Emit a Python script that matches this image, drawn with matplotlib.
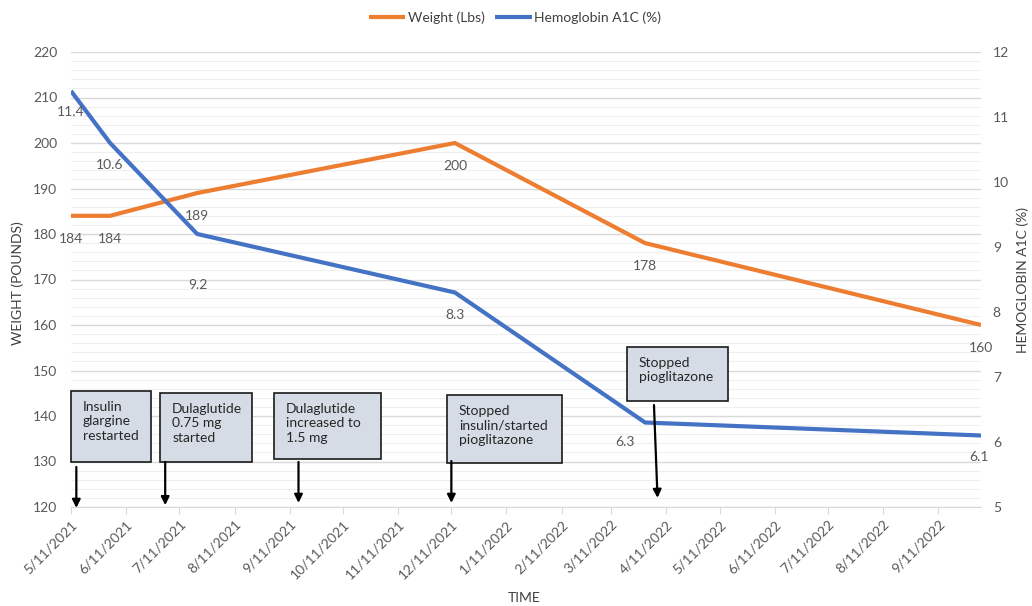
import datetime as dt
import matplotlib
matplotlib.use('Agg')
import matplotlib.pyplot as plt
from matplotlib.patches import Rectangle

plt.rcParams['font.family'] = ['Lato', 'DejaVu Sans']

# valeurs
dates = [dt.date(2021, 5, 11), dt.date(2021, 6, 2), dt.date(2021, 7, 21),
         dt.date(2021, 12, 13), dt.date(2022, 3, 30), dt.date(2022, 10, 5)]
weight = [184, 184, 189, 200, 178, 160]
a1c = [11.4, 10.6, 9.2, 8.3, 6.3, 6.1]

tick_labels = ['5/11/2021', '6/11/2021', '7/11/2021', '8/11/2021', '9/11/2021',
               '10/11/2021', '11/11/2021', '12/11/2021', '1/11/2022', '2/11/2022',
               '3/11/2022', '4/11/2022', '5/11/2022', '6/11/2022', '7/11/2022',
               '8/11/2022', '9/11/2022']
tick_dates = [dt.datetime.strptime(s, '%m/%d/%Y').date() for s in tick_labels]

events = ['Insulin\nglargine\nrestarted',
          'Dulaglutide\n0.75 mg\nstarted',
          'Dulaglutide\nincreased to\n1.5 mg',
          'Stopped\ninsulin/started\npioglitazone',
          'Stopped\npioglitazone']
event_dates = [dt.date(2021, 5, 14), dt.date(2021, 7, 3), dt.date(2021, 9, 16),
               dt.date(2021, 12, 11), dt.date(2022, 4, 6)]

ORANGE = '#ED7D31'
BLUE = '#4472C4'
GREY = '#595959'
PX = 0.72  # points par pixel a 100 dpi

fig = plt.figure(figsize=(10.32, 6.06), dpi=100)
ax = fig.add_axes([71 / 1032, 1 - 507 / 606, 910 / 1032, 455 / 606])
ax2 = ax.twinx()

l1, = ax.plot(dates, weight, color=ORANGE, lw=3, solid_capstyle='butt', label='Weight (Lbs)')
l2, = ax2.plot(dates, a1c, color=BLUE, lw=3, solid_capstyle='butt', label='Hemoglobin A1C (%)')

ax.set_xlim(dates[0], dates[-1])
ax.set_ylim(120, 220)
ax.set_yticks(range(120, 221, 10))
ax.set_yticks(range(120, 221, 2), minor=True)
ax.grid(which='major', axis='y', color='#D9D9D9', lw=1)
ax.grid(which='minor', axis='y', color='#EFEFEF', lw=0.8)
ax.tick_params(axis='y', which='both', length=0, pad=10, labelsize=10, labelcolor=GREY)

ax2.set_ylim(5, 12)
ax2.set_yticks(range(5, 13))
ax2.tick_params(axis='y', length=0, pad=8.5, labelsize=10, labelcolor=GREY)

ax.set_xticks(tick_dates)
ax.set_xticklabels(tick_labels, rotation=45, ha='right', rotation_mode='anchor')
ax.tick_params(axis='x', length=5, color='#D9D9D9', pad=3, labelsize=10, labelcolor=GREY)

for a in (ax, ax2):
    for s in ('top', 'left', 'right'):
        a.spines[s].set_visible(False)
    a.spines['bottom'].set_visible(False)
ax.spines['bottom'].set_visible(True)
ax.spines['bottom'].set_color('#D9D9D9')

# etiquettes des points
w_off = [(0, -23)] * 6
a_off = [(0, -21), (0, -22), (1, -51), (0, -23), (-20, -20), (-2, -22)]
for d, v, (dx, dy) in zip(dates, weight, w_off):
    ax.annotate(str(v), (d, v), xytext=(dx * PX, dy * PX), textcoords='offset points',
                ha='center', va='center', fontsize=10, color=GREY)
for d, v, (dx, dy) in zip(dates, a1c, a_off):
    ax2.annotate(str(v), (d, v), xytext=(dx * PX, dy * PX), textcoords='offset points',
                 ha='center', va='center', fontsize=10, color=GREY)

# encadres et fleches
boxes = [(0.0, 0.099, 0.088, 0.156),
         (0.098, 0.099, 0.101, 0.152),
         (0.223, 0.105, 0.118, 0.146),
         (0.413, 0.097, 0.127, 0.149),
         (0.611, 0.233, 0.111, 0.119)]
arrows = [(0.088, -0.002, 0), (0.099, 0.004, 0), (0.099, 0.009, 0),
          (0.101, 0.009, 0), (0.224, 0.020, -2)]
for txt, d, (x0, y0, w, h), (ya, yb, ddx) in zip(events, event_dates, boxes, arrows):
    ax2.add_patch(Rectangle((x0, y0), w, h, transform=ax2.transAxes, facecolor='#D6DCE5',
                            edgecolor='#1A1A1A', lw=1.2, clip_on=False, zorder=5))
    ax2.text(x0 + 12 / 910, y0 + h - 10 / 455, txt, transform=ax2.transAxes, ha='left', va='top',
             fontsize=10, color='#262626', linespacing=1.25, zorder=6)
    ax2.annotate('', xy=(d, yb), xytext=(d + dt.timedelta(days=ddx), ya),
                 xycoords=('data', 'axes fraction'), textcoords=('data', 'axes fraction'),
                 arrowprops=dict(arrowstyle='-|>', color='black', lw=1.6, mutation_scale=12,
                                 shrinkA=0, shrinkB=0),
                 annotation_clip=False, zorder=6)

fig.text(18 / 1032, 1 - 283 / 606, 'WEIGHT (POUNDS)', rotation=90, ha='center', va='center',
         fontsize=10, color='#404040')
fig.text(1023 / 1032, 1 - 280 / 606, 'HEMOGLOBIN A1C (%)', rotation=90, ha='center', va='center',
         fontsize=10, color='#404040')
fig.text(524 / 1032, 1 - 598 / 606, 'TIME', ha='center', va='center', fontsize=10, color='#404040')

fig.legend(handles=[l1, l2], loc='center', bbox_to_anchor=(515 / 1032, 1 - 18 / 606), ncol=2,
           frameon=False, fontsize=10, handlelength=2.6, handletextpad=0.2, columnspacing=0.8,
           labelcolor='#404040')

fig.savefig('out.png', dpi=100)
